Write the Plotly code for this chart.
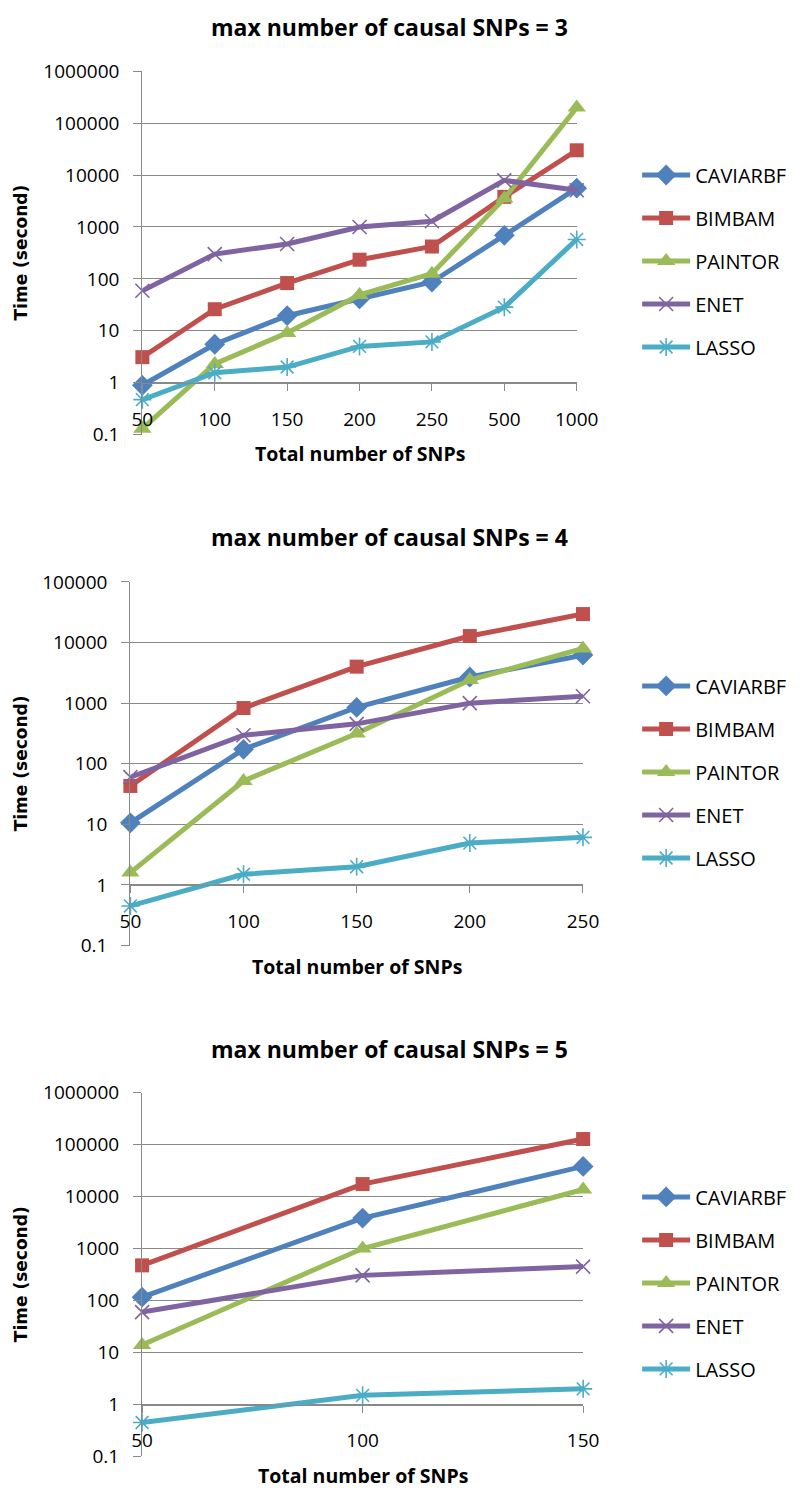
import plotly.graph_objects as go

W, H = 802, 1497

# ---------------- data ----------------
series_names = ["CAVIARBF", "BIMBAM", "PAINTOR", "ENET", "LASSO"]

snps_3 = ["50", "100", "150", "200", "250", "500", "1000"]
caviarbf_3 = [0.89, 5.5, 19.5, 41, 87, 690, 5600]
bimbam_3 = [3.1, 26, 83, 234, 420, 3800, 30000]
paintor_3 = [0.13, 2.3, 9.1, 49, 126, 3550, 200000]
enet_3 = [59, 300, 470, 1000, 1290, 7900, 5100]
lasso_3 = [0.47, 1.55, 2.0, 5.0, 6.1, 28.5, 575]

snps_4 = ["50", "100", "150", "200", "250"]
caviarbf_4 = [10.6, 173, 850, 2700, 6200]
bimbam_4 = [43, 830, 4000, 12800, 29500]
paintor_4 = [1.6, 52, 315, 2400, 8000]
enet_4 = [60, 295, 455, 1000, 1300]
lasso_4 = [0.45, 1.5, 2.0, 4.9, 6.1]

snps_5 = ["50", "100", "150"]
caviarbf_5 = [116, 3860, 38000]
bimbam_5 = [475, 17400, 128000]
paintor_5 = [14, 1000, 13700]
enet_5 = [60, 305, 450]
lasso_5 = [0.45, 1.5, 2.0]

chart_titles = ["max number of causal SNPs = 3",
                "max number of causal SNPs = 4",
                "max number of causal SNPs = 5"]
x_title = "Total number of SNPs"
y_title = "Time (second)"

y_tick_values = [0.1, 1, 10, 100, 1000, 10000, 100000, 1000000]
y_tick_labels = ["0.1", "1", "10", "100", "1000", "10000", "100000", "1000000"]

chart_data = [
    (snps_3, [caviarbf_3, bimbam_3, paintor_3, enet_3, lasso_3]),
    (snps_4, [caviarbf_4, bimbam_4, paintor_4, enet_4, lasso_4]),
    (snps_5, [caviarbf_5, bimbam_5, paintor_5, enet_5, lasso_5]),
]

# ---------------- style / layout (pixels) ----------------
colors = ["#4F81BD", "#C0504D", "#9BBB59", "#8064A2", "#4BACC6"]
symbols = ["diamond", "square", "triangle-up", "x-thin-open", "asterisk-open"]
msizes = [16, 14, 16, 14, 15]
grid_color = "#898989"

geom = [
    dict(left=137, right=590, top=59.3, bottom=429, ymax=6, title_y=14,
         xtitle_y=448, legend_top=175),
    dict(left=124.5, right=596.5, top=579, bottom=949, ymax=5, title_y=533,
         xtitle_y=970, legend_top=695),
    dict(left=136.7, right=596.7, top=1098.7, bottom=1469, ymax=6, title_y=1054,
         xtitle_y=1488, legend_top=1215),
]

TICK_FONT = dict(family="Open Sans, Arial, sans-serif", size=19, color="black")
LEG_FONT = dict(family="Open Sans, Arial, sans-serif", size=20, color="black")
BOLD_FONT = "Open Sans, Arial, sans-serif"


def px(x):
    return x / W


def py(y):
    return 1 - y / H


fig = go.Figure()
layout = dict(
    width=W, height=H, margin=dict(l=0, r=0, t=0, b=0),
    paper_bgcolor="white", plot_bgcolor="white", showlegend=True,
)
annotations = []

for k, ((cats, values), g) in enumerate(zip(chart_data, geom)):
    n = k + 1
    xa = "xaxis" if n == 1 else f"xaxis{n}"
    ya = "yaxis" if n == 1 else f"yaxis{n}"
    xr = "x" if n == 1 else f"x{n}"
    yr = "y" if n == 1 else f"y{n}"
    leg = "legend" if n == 1 else f"legend{n}"

    ybot, ytop = py(g["bottom"]), py(g["top"])
    axis_pos = ybot + (ytop - ybot) * (1.0 / (g["ymax"] + 1))

    for i, (name, vals) in enumerate(zip(series_names, values)):
        fig.add_trace(go.Scatter(
            x=cats, y=vals, name=name, mode="lines+markers",
            xaxis=xr, yaxis=yr, legend=leg, legendgroup=f"{name}{n}",
            cliponaxis=False,
            line=dict(color=colors[i], width=5),
            marker=dict(symbol=symbols[i], size=msizes[i], color=colors[i],
                        line=dict(color=colors[i], width=1.6 if i >= 3 else 0)),
        ))

    layout[xa] = dict(
        type="category", domain=[px(g["left"]), px(g["right"])],
        range=[0, len(cats) - 1], anchor="free", position=axis_pos,
        showline=True, linecolor=grid_color, linewidth=1.3,
        ticks="outside", ticklen=7, tickcolor=grid_color, tickwidth=1.3,
        showgrid=False, zeroline=False, tickfont=TICK_FONT,
        ticklabelstandoff=12,
    )
    ytv = [v for v in y_tick_values if v <= 10 ** g["ymax"]]
    ytl = y_tick_labels[:len(ytv)]
    layout[ya] = dict(
        type="log", domain=[ybot, ytop], range=[-1, g["ymax"]],
        anchor=xr, tickmode="array", tickvals=ytv, ticktext=ytl,
        showline=True, linecolor=grid_color, linewidth=1.3,
        ticks="outside", ticklen=8, tickcolor=grid_color, tickwidth=1.3,
        showgrid=True, gridcolor=grid_color, gridwidth=1.3,
        zeroline=False, tickfont=TICK_FONT, ticklabelstandoff=10,
    )
    layout[leg] = dict(
        x=px(653), xanchor="left", y=py(g["legend_top"] - 30), yanchor="top",
        font=LEG_FONT, bgcolor="rgba(0,0,0,0)", borderwidth=0,
        tracegroupgap=14, itemwidth=48,
    )

    annotations.append(dict(
        text=f"<b>{chart_titles[k]}</b>", x=px(395), y=py(g["title_y"]),
        xref="paper", yref="paper", xanchor="center", yanchor="middle",
        showarrow=False, font=dict(family=BOLD_FONT, size=23, color="black"),
    ))
    annotations.append(dict(
        text=f"<b>{x_title}</b>", x=px((g["left"] + g["right"]) / 2),
        y=py(g["xtitle_y"]), xref="paper", yref="paper", xanchor="center",
        yanchor="middle", showarrow=False,
        font=dict(family=BOLD_FONT, size=19.5, color="black"),
    ))
    annotations.append(dict(
        text=f"<b>{y_title}</b>", x=px(10), y=py((g["top"] + g["bottom"]) / 2),
        xref="paper", yref="paper", xanchor="center", yanchor="middle",
        textangle=-90, showarrow=False,
        font=dict(family="DejaVu Sans, Verdana, sans-serif", size=17, color="black"),
    ))

layout["annotations"] = annotations
fig.update_layout(**layout)
fig.write_html("out.html", config={"displayModeBar": False},
               post_script="document.body.style.margin='0';document.body.style.overflow='hidden';")
